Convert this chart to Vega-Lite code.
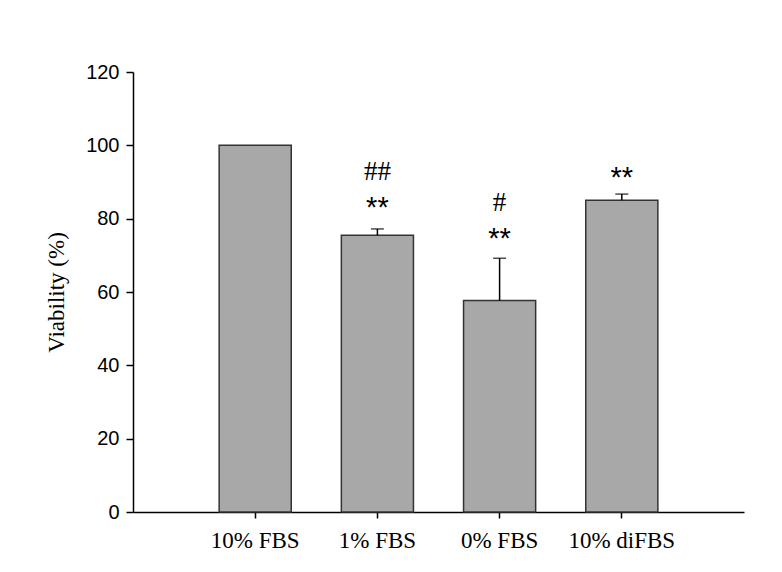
{
  "$schema": "https://vega.github.io/schema/vega-lite/v6.json",
  "autosize": "none",
  "width": 611,
  "height": 440,
  "padding": {"left": 133, "top": 72, "right": 38, "bottom": 60},
  "background": "white",
  "config": {
    "view": {"stroke": null},
    "axis": {"grid": false, "domainColor": "black", "tickColor": "black", "domainWidth": 1.5, "tickWidth": 1.5, "labelColor": "black", "titleColor": "black"}
  },
  "datasets": {
    "bars": [
      {"group": "10% FBS", "viability": 100, "upper": 100},
      {"group": "1% FBS", "viability": 75.5, "upper": 77.2},
      {"group": "0% FBS", "viability": 57.7, "upper": 69.2},
      {"group": "10% diFBS", "viability": 85.0, "upper": 86.7}
    ],
    "notes": [
      {"group": "1% FBS", "label": "##", "kind": "hash", "pos": 90.6},
      {"group": "1% FBS", "label": "**", "kind": "star", "pos": 80.4},
      {"group": "0% FBS", "label": "#", "kind": "hash", "pos": 82.1},
      {"group": "0% FBS", "label": "**", "kind": "star", "pos": 71.9},
      {"group": "10% diFBS", "label": "**", "kind": "star", "pos": 88.7}
    ]
  },
  "encoding": {
    "x": {
      "field": "group",
      "type": "nominal",
      "sort": ["10% FBS", "1% FBS", "0% FBS", "10% diFBS"],
      "scale": {"paddingInner": 0.41, "paddingOuter": 0.705},
      "axis": {"title": null, "labelAngle": 0, "labelFont": "Liberation Serif", "labelFontSize": 23, "labelPadding": 11, "tickSize": 6, "domainWidth": 1.5}
    }
  },
  "layer": [
    {
      "data": {"name": "bars"},
      "mark": {"type": "bar", "fill": "#a8a8a8", "stroke": "#333333", "strokeWidth": 1.5},
      "encoding": {
        "y": {
          "field": "viability",
          "type": "quantitative",
          "scale": {"domain": [0, 120]},
          "axis": {"title": "Viability (%)", "titleFont": "Liberation Serif", "titleFontSize": 23, "titleFontWeight": "normal", "titlePadding": 17, "values": [0, 20, 40, 60, 80, 100, 120], "labelFont": "Liberation Sans", "labelFontSize": 20, "labelPadding": 7, "tickSize": 7}
        }
      }
    },
    {
      "data": {"name": "bars"},
      "mark": {"type": "rule", "color": "black", "strokeWidth": 1.5},
      "encoding": {
        "y": {"field": "viability", "type": "quantitative"},
        "y2": {"field": "upper"}
      }
    },
    {
      "data": {"name": "bars"},
      "transform": [{"filter": "datum.upper > datum.viability"}],
      "mark": {"type": "tick", "color": "black", "size": 13, "thickness": 1.5},
      "encoding": {
        "y": {"field": "upper", "type": "quantitative"}
      }
    },
    {
      "data": {"name": "notes"},
      "transform": [{"filter": "datum.kind === 'star'"}],
      "mark": {"type": "text", "font": "Liberation Sans", "fontSize": 29, "baseline": "alphabetic", "color": "black"},
      "encoding": {
        "y": {"field": "pos", "type": "quantitative"},
        "text": {"field": "label"}
      }
    },
    {
      "data": {"name": "notes"},
      "transform": [{"filter": "datum.kind === 'hash'"}],
      "mark": {"type": "text", "font": "Liberation Serif", "fontSize": 27, "baseline": "alphabetic", "color": "black"},
      "encoding": {
        "y": {"field": "pos", "type": "quantitative"},
        "text": {"field": "label"}
      }
    }
  ]
}
